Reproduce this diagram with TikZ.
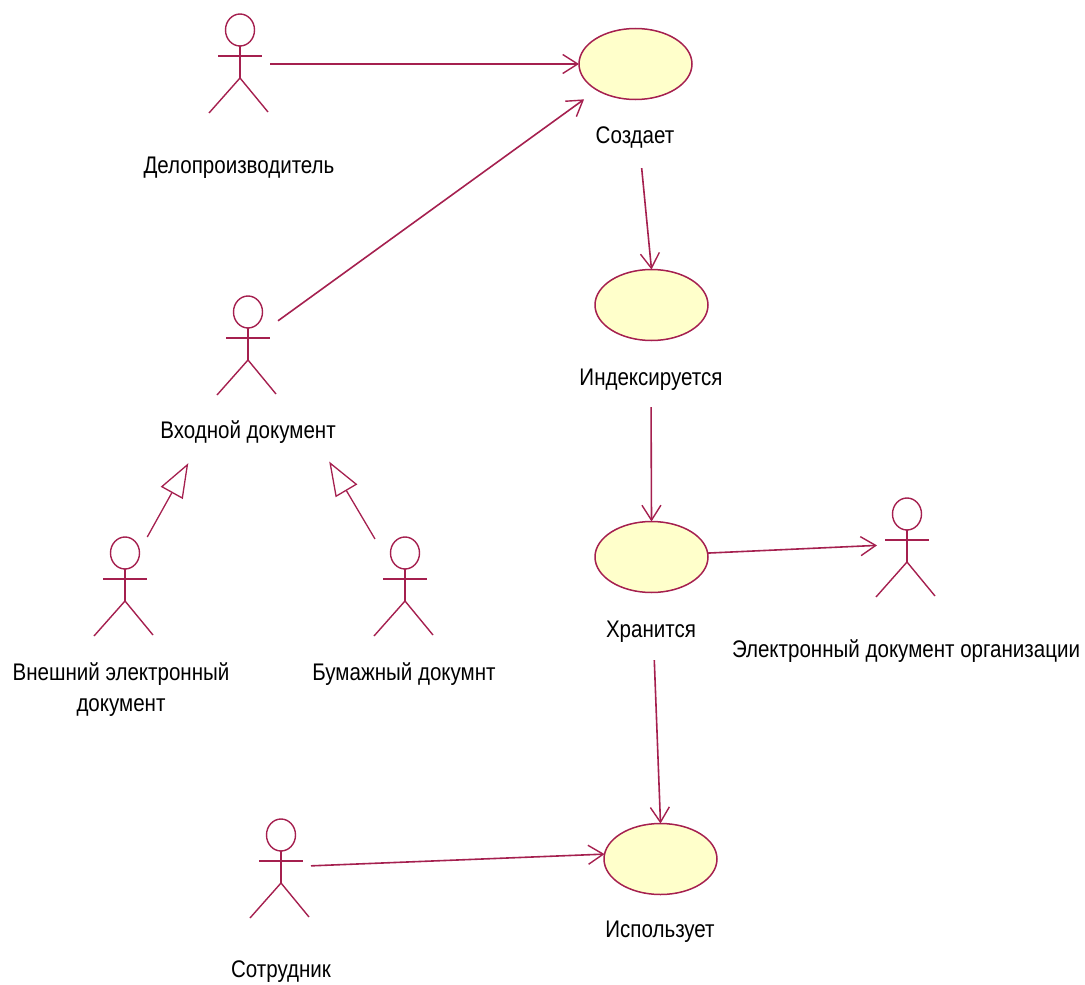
\documentclass[tikz,border=0pt]{standalone}
\usepackage{fontspec}
\setmainfont[FakeStretch=0.856]{Liberation Sans}
\usetikzlibrary{arrows.meta,shapes.geometric}
\definecolor{umlline}{HTML}{A5204F}
\definecolor{umlfill}{HTML}{FFFFCB}
\tikzset{
  x=1pt,y=-1pt,
  usecase/.style={draw=umlline,fill=umlfill,ellipse,line width=1.5pt,minimum width=113pt,minimum height=71pt,inner sep=0pt,outer sep=0pt},
  actorbox/.style={minimum width=60pt,minimum height=100pt,inner sep=0pt,outer sep=0pt},
  lbl/.style={font=\fontsize{24}{28}\selectfont,text=black,align=center,inner sep=2pt,text height=21pt,text depth=5pt},
  assoc/.style={draw=umlline,line width=1.6pt,-{Straight Barb[length=15pt,width=19pt,line width=1.4pt]}},
  gener/.style={draw=umlline,line width=1.3pt,-{Triangle[open,length=34pt,width=25pt,line width=1.3pt,fill=white]}},
  pics/actor/.style={code={
    \draw[draw=umlline,line width=1.4pt] (0,-34) ellipse [x radius=14.5pt,y radius=16pt];
    \draw[draw=umlline,line width=1.4pt] (0,-18) -- (0,14);
    \draw[draw=umlline,line width=1.4pt] (-22,-8) -- (22,-8);
    \draw[draw=umlline,line width=1.4pt] (-31,49) -- (0,14) -- (28,48);
  }}
}
\begin{document}
\begin{tikzpicture}
\useasboundingbox (0,0) rectangle (1085,985);
% actors
\node[actorbox] (a1) at (240,64) {}; \pic at (a1) {actor};
\node[actorbox] (a2) at (248,346) {}; \pic at (a2) {actor};
\node[actorbox] (a3) at (125,587) {}; \pic at (a3) {actor};
\node[actorbox] (a4) at (405,587) {}; \pic at (a4) {actor};
\node[actorbox] (a5) at (907,548) {}; \pic at (a5) {actor};
\node[actorbox] (a6) at (281,869) {}; \pic at (a6) {actor};
% use cases
\node[usecase] (e1) at (635.5,64) {};
\node[usecase] (e2) at (651.5,305) {};
\node[usecase] (e3) at (651.5,557) {};
\node[usecase] (e4) at (660.5,859) {};
% labels
\node[lbl] (la1) at (239,165) {Делопроизводитель};
\node[lbl] (la2) at (248,430) {Входной документ};
\node[lbl] (la3) at (121,672) {Внешний электронный};
\node[lbl] (la3b) at (121,703) {документ};
\node[lbl] (la4) at (404,672) {Бумажный докумнт};
\node[lbl] (la5) at (906,649) {Электронный документ организации};
\node[lbl] (la6) at (281,969) {Сотрудник};
\node[lbl] (le1) at (635,135) {Создает};
\node[lbl] (le2) at (651,377) {Индексируется};
\node[lbl] (le3) at (651,629) {Хранится};
\node[lbl] (le4) at (660,929) {Использует};
% connectors
\draw[assoc] (a1.east) -- (e1.west);
\draw[assoc,shorten >=16pt] (a2.40) -- (e1.-146);
\draw[assoc,shorten <=18pt] (le1.-72.6) -- (e2.north);
\draw[assoc,shorten <=15pt] (le2.south) -- (e3.north);
\draw[assoc] (e3.4) -- (a5.175);
\draw[assoc,shorten <=16pt] (le3.-80) -- (e4.north);
\draw[assoc] (a6.6) -- (e4.175);
\draw[gener,shorten >=20.6pt] (a3.66) -- (la2.-163.3);
\draw[gener,shorten >=19pt] (a4.122.6) -- (la2.-12.9);
\end{tikzpicture}
\end{document}
